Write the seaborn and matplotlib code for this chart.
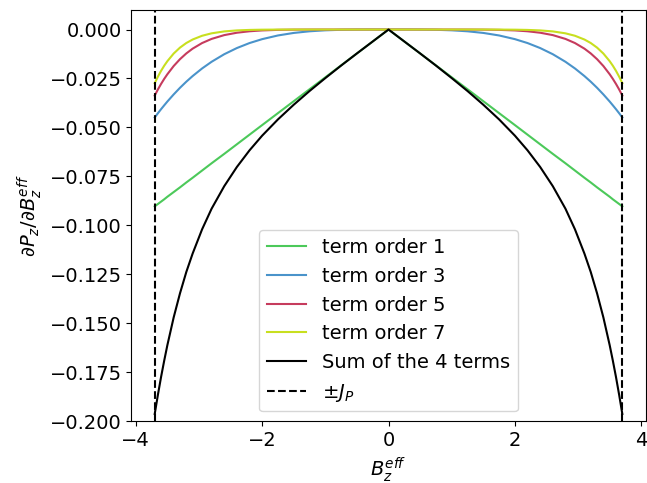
import numpy as np
import pandas as pd
import matplotlib
matplotlib.use("Agg")
import matplotlib.pyplot as plt
import seaborn as sns

# Right half of the (symmetric) curves
x_half = [0.0, 0.25, 0.5, 0.75, 1.0, 1.25, 1.5, 1.75, 2.0, 2.2, 2.4, 2.6, 2.8,
          2.95, 3.1, 3.2, 3.3, 3.4, 3.5, 3.55, 3.6, 3.65, 3.7]
term1 = [0.0, -0.0061, -0.0122, -0.0183, -0.0244, -0.0305, -0.0366, -0.0427,
         -0.0488, -0.0537, -0.0586, -0.0635, -0.0683, -0.0720, -0.0757, -0.0781,
         -0.0806, -0.0830, -0.0854, -0.0867, -0.0879, -0.0891, -0.0903]
term3 = [0.0, 0.0, -0.00003, -0.00014, -0.0004, -0.0009, -0.00174, -0.00303,
         -0.00491, -0.00691, -0.00946, -0.01261, -0.01647, -0.01987, -0.02376,
         -0.02663, -0.02975, -0.03314, -0.03677, -0.03871, -0.04069, -0.04276,
         -0.0449]
term5 = [0.0, 0.0, 0.0, 0.0, 0.0, -0.00002, -0.00006, -0.00018, -0.00045,
         -0.00089, -0.00163, -0.00285, -0.00479, -0.0069, -0.00976, -0.0122,
         -0.01513, -0.01864, -0.02284, -0.0252, -0.0278, -0.03063, -0.0337]
term7 = [0.0, 0.0, 0.0, 0.0, 0.0, 0.0, 0.0, -0.00002, -0.00008, -0.0002,
         -0.00045, -0.00096, -0.00194, -0.00318, -0.0051, -0.00689, -0.00923,
         -0.01226, -0.01617, -0.01849, -0.02112, -0.02407, -0.0274]
total = [0.0, -0.0061, -0.0122, -0.0184, -0.0248, -0.0314, -0.0384, -0.0459,
         -0.0542, -0.0617, -0.0702, -0.0800, -0.0915, -0.1020, -0.1144, -0.1238,
         -0.1347, -0.1470, -0.1612, -0.1691, -0.1775, -0.1866, -0.1963]
J_P = 3.7

labels = ["term order 1", "term order 3", "term order 5", "term order 7",
          "Sum of the 4 terms"]
colors = ["#4cc95a", "#4a93ca", "#c63b5d", "#c8df1f", "#000000"]
series = [term1, term3, term5, term7, total]
y_ticks = [-0.2, -0.175, -0.15, -0.125, -0.1, -0.075, -0.05, -0.025, 0.0]
x_ticks = [-4, -2, 0, 2, 4]

def full(vals):
    v = np.asarray(vals, dtype=float)
    return np.concatenate([v[::-1], v[1:]])

xh = np.asarray(x_half)
x_full = np.concatenate([-xh[::-1], xh[1:]])

frames = []
for lab, vals in zip(labels, series):
    frames.append(pd.DataFrame({"x": x_full, "y": full(vals), "series": lab}))
df = pd.concat(frames, ignore_index=True)

plt.rcParams["font.size"] = 14
fig, ax = plt.subplots(figsize=(6.47, 4.83), dpi=100)
sns.lineplot(data=df, x="x", y="y", hue="series", hue_order=labels,
             palette=dict(zip(labels, colors)), estimator=None, sort=False,
             linewidth=1.5, ax=ax)
ax.axvline(-J_P, color="black", linestyle="--", linewidth=1.5, label=r"$\pm J_P$")
ax.axvline(J_P, color="black", linestyle="--", linewidth=1.5)

ax.set_xlim(-4.07, 4.07)
ax.set_ylim(-0.2, 0.0099)
ax.set_xticks(x_ticks)
ax.set_yticks(y_ticks)
ax.set_xlabel(r"$B_z^{eff}$")
ax.set_ylabel(r"$\partial P_z/\partial B_z^{eff}$")
ax.tick_params(labelsize=14)

handles, labs = ax.get_legend_handles_labels()
ax.legend(handles, labs, loc="lower center", fontsize=14)

fig.subplots_adjust(left=0.203, right=0.998, bottom=0.128, top=0.979)
fig.savefig("out.png", dpi=100)
